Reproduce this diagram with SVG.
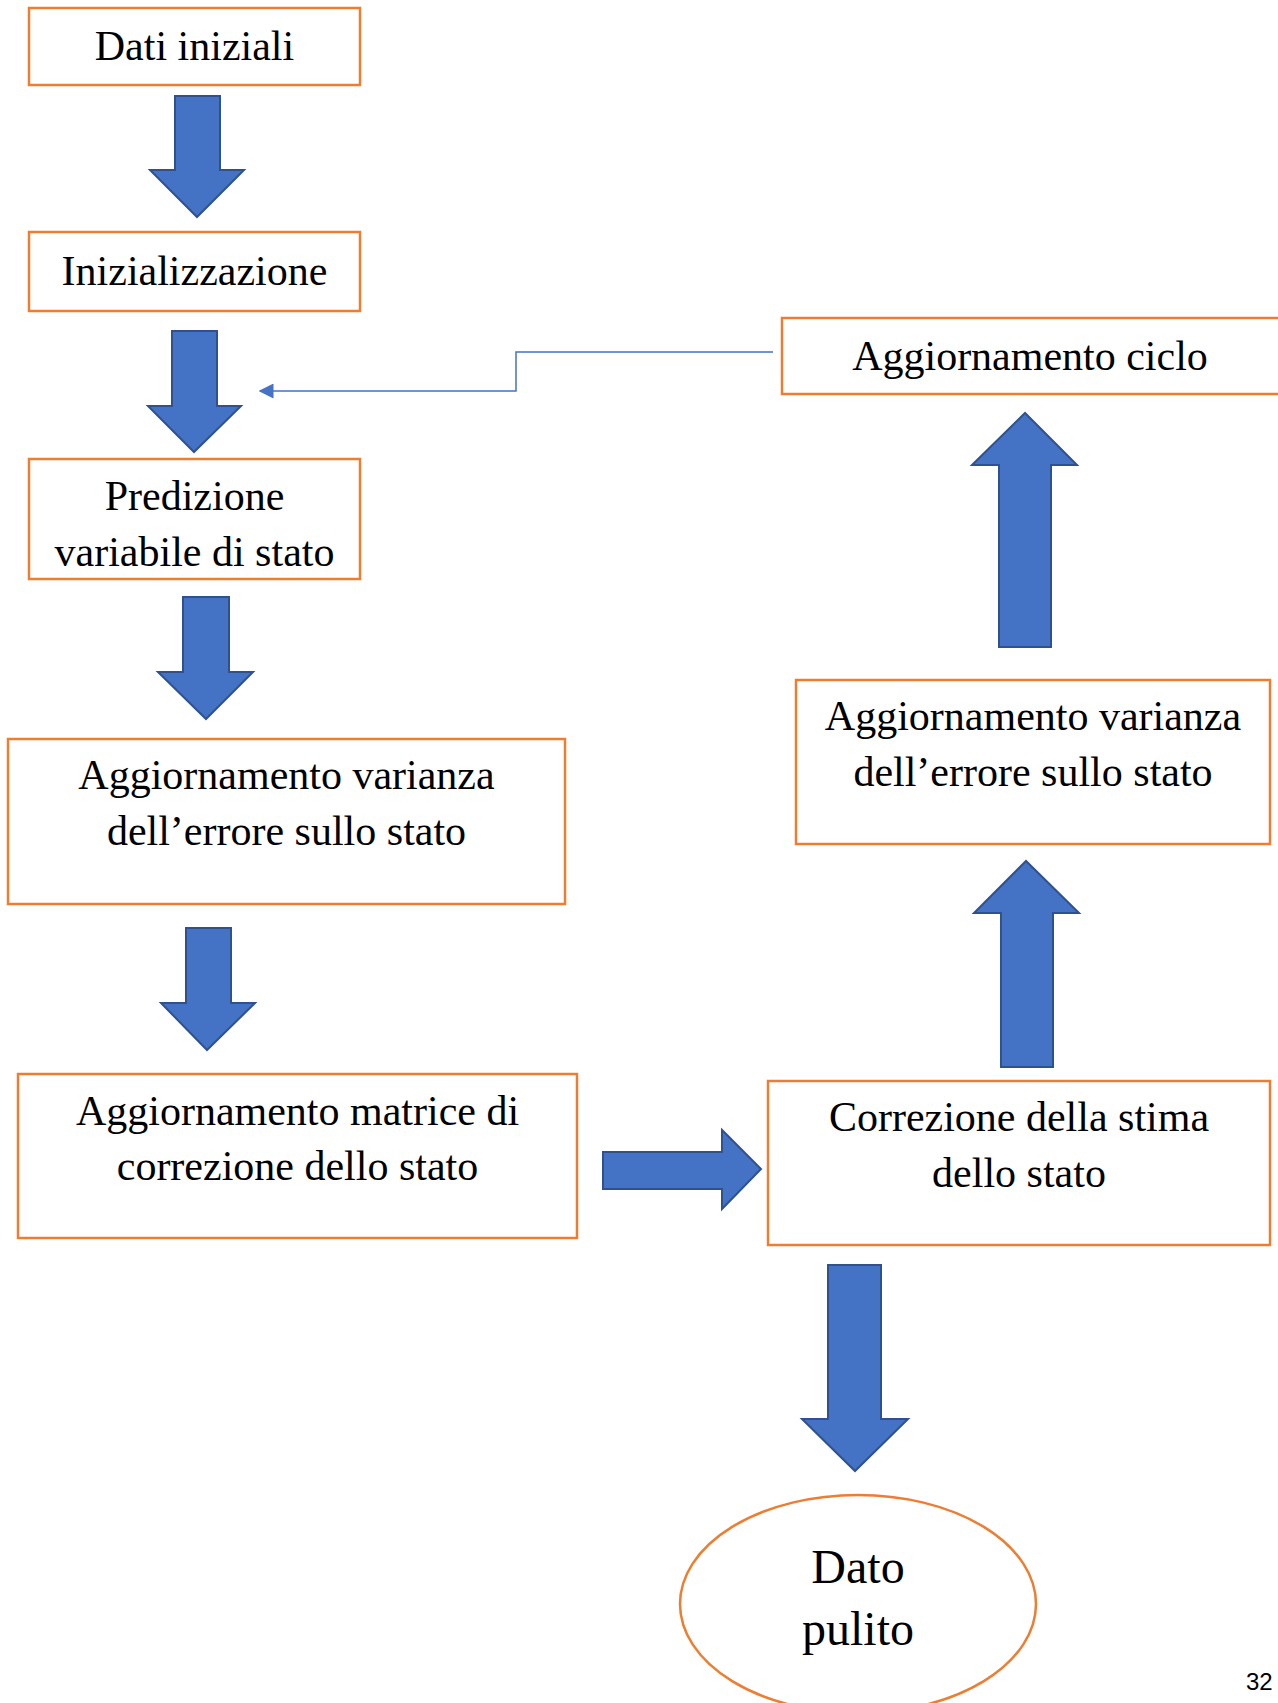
<svg xmlns="http://www.w3.org/2000/svg" width="1278" height="1703" viewBox="0 0 1278 1703">
<defs>
<style>
.box{fill:#fff;stroke:#ED7D31;stroke-width:2.5}
.blk{fill:#4472C4;stroke:#2F528F;stroke-width:2;stroke-linejoin:miter}
.t{font-family:"Liberation Serif","Times New Roman",serif;font-size:42px;fill:#000;text-anchor:middle}
.tb{font-family:"Liberation Serif","Times New Roman",serif;font-size:48px;fill:#000;text-anchor:middle}
.pg{font-family:"Liberation Sans",Arial,sans-serif;font-size:24px;fill:#000}
.con{fill:none;stroke:#4472C4;stroke-width:1.5}
</style>
<marker id="ah" viewBox="0 0 10 10" refX="9" refY="5" markerWidth="15" markerHeight="15" markerUnits="userSpaceOnUse" orient="auto">
<path d="M0,0 L10,5 L0,10 z" fill="#4472C4"/>
</marker>
</defs>
<rect width="1278" height="1703" fill="#fff"/>

<g id="connectors">
<polygon class="blk" points="175,96 220,96 220,170 244,170 197,217 150,170 175,170"/>
<polygon class="blk" points="172,331 217,331 217,406 241,406 194,452 148,406 172,406"/>
<polygon class="blk" points="183,597 229,597 229,672 253,672 206,719 158,672 183,672"/>
<polygon class="blk" points="186,928 231,928 231,1003 255,1003 207,1050 161,1003 186,1003"/>
<polygon class="blk" points="603,1152 722,1152 722,1130 761,1169 722,1209 722,1189 603,1189"/>
<polygon class="blk" points="1001,1067 1053,1067 1053,913 1079,913 1026,861 974,913 1001,913"/>
<polygon class="blk" points="999,647 1051,647 1051,465 1077,465 1025,413 972,465 999,465"/>
<polygon class="blk" points="828,1265 881,1265 881,1419 908,1419 855,1471 802,1419 828,1419"/>
<path class="con" d="M773,352 L516,352 L516,391 L260,391" marker-end="url(#ah)"/>
</g>

<g id="n1">
<rect class="box" x="29" y="8" width="331" height="77"/>
<text class="t" x="194.5" y="60">Dati iniziali</text>
</g>
<g id="n2">
<rect class="box" x="29" y="232" width="331" height="79"/>
<text class="t" x="194.5" y="285">Inizializzazione</text>
</g>
<g id="n3">
<rect class="box" x="29" y="459" width="331" height="120"/>
<text class="t" x="194.5" y="510">Predizione</text>
<text class="t" x="194.5" y="566">variabile di stato</text>
</g>
<g id="n4">
<rect class="box" x="8" y="739" width="557" height="165"/>
<text class="t" x="286.5" y="789">Aggiornamento varianza</text>
<text class="t" x="286.5" y="845">dell’errore sullo stato</text>
</g>
<g id="n5">
<rect class="box" x="18" y="1074" width="559" height="164"/>
<text class="t" x="297.5" y="1125">Aggiornamento matrice di</text>
<text class="t" x="297.5" y="1180">correzione dello stato</text>
</g>
<g id="n6">
<rect class="box" x="768" y="1081" width="502" height="164"/>
<text class="t" x="1019" y="1131">Correzione della stima</text>
<text class="t" x="1019" y="1187">dello stato</text>
</g>
<g id="n7">
<rect class="box" x="796" y="680" width="474" height="164"/>
<text class="t" x="1033" y="730">Aggiornamento varianza</text>
<text class="t" x="1033" y="786">dell’errore sullo stato</text>
</g>
<g id="n8">
<rect class="box" x="782" y="318" width="500" height="76"/>
<text class="t" x="1030" y="370">Aggiornamento ciclo</text>
</g>
<g id="n9">
<ellipse class="box" cx="858" cy="1604" rx="178" ry="109"/>
<text class="tb" x="858" y="1583">Dato</text>
<text class="tb" x="858" y="1645">pulito</text>
</g>
<text class="pg" x="1246" y="1690">32</text>
</svg>
